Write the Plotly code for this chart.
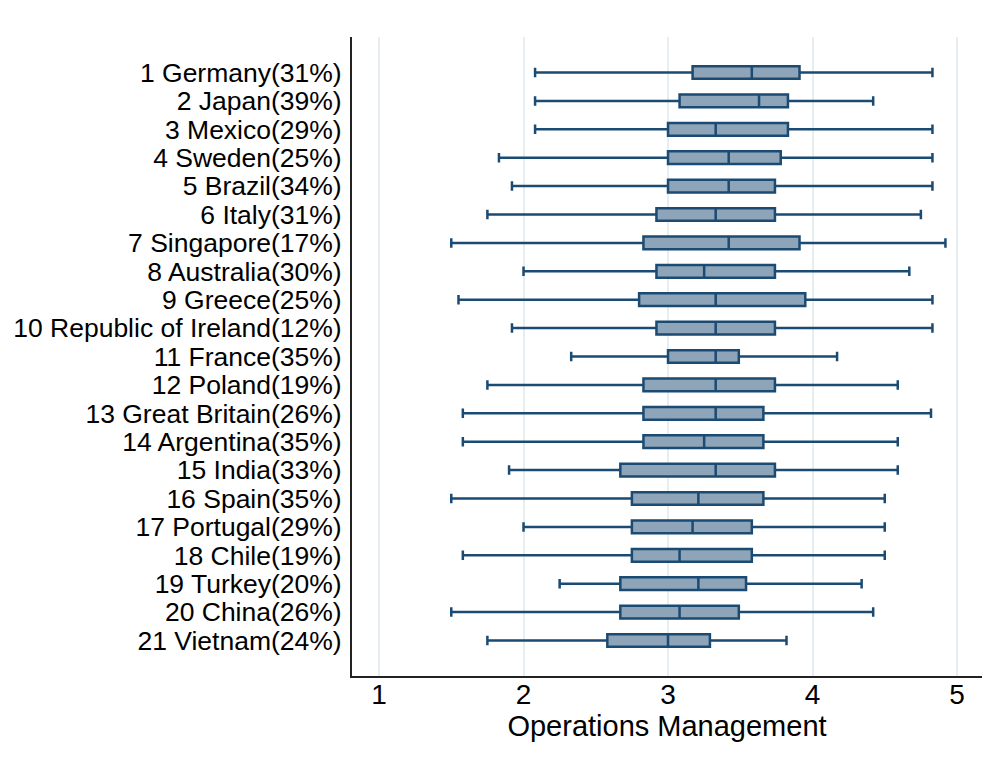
import plotly.graph_objects as go

countries = [
    "1 Germany(31%)", "2 Japan(39%)", "3 Mexico(29%)", "4 Sweden(25%)",
    "5 Brazil(34%)", "6 Italy(31%)", "7 Singapore(17%)", "8 Australia(30%)",
    "9 Greece(25%)", "10 Republic of Ireland(12%)", "11 France(35%)",
    "12 Poland(19%)", "13 Great Britain(26%)", "14 Argentina(35%)",
    "15 India(33%)", "16 Spain(35%)", "17 Portugal(29%)", "18 Chile(19%)",
    "19 Turkey(20%)", "20 China(26%)", "21 Vietnam(24%)",
]
lower = [2.08, 2.08, 2.08, 1.83, 1.92, 1.75, 1.50, 2.00, 1.55, 1.92, 2.33,
         1.75, 1.58, 1.58, 1.90, 1.50, 2.00, 1.58, 2.25, 1.50, 1.75]
q1 = [3.17, 3.08, 3.00, 3.00, 3.00, 2.92, 2.83, 2.92, 2.80, 2.92, 3.00,
      2.83, 2.83, 2.83, 2.67, 2.75, 2.75, 2.75, 2.67, 2.67, 2.58]
median = [3.58, 3.63, 3.33, 3.42, 3.42, 3.33, 3.42, 3.25, 3.33, 3.33, 3.33,
          3.33, 3.33, 3.25, 3.33, 3.21, 3.17, 3.08, 3.21, 3.08, 3.00]
q3 = [3.91, 3.83, 3.83, 3.78, 3.74, 3.74, 3.91, 3.74, 3.95, 3.74, 3.49,
      3.74, 3.66, 3.66, 3.74, 3.66, 3.58, 3.58, 3.54, 3.49, 3.29]
upper = [4.83, 4.42, 4.83, 4.83, 4.83, 4.75, 4.92, 4.67, 4.83, 4.83, 4.17,
         4.59, 4.82, 4.59, 4.59, 4.50, 4.50, 4.50, 4.34, 4.42, 3.82]
x_ticks = [1, 2, 3, 4, 5]
x_title = "Operations Management"

FONT = "Liberation Sans, Arial, Helvetica, sans-serif"
LINE = "#1b4a72"
FILL = "#8ea4b9"

fig = go.Figure()
fig.add_trace(go.Box(
    y=countries, q1=q1, median=median, q3=q3,
    lowerfence=lower, upperfence=upper,
    orientation="h",
    fillcolor=FILL,
    line=dict(color=LINE, width=2.5),
    whiskerwidth=0.75,
    boxpoints=False,
    hoverinfo="skip",
    showlegend=False,
))

fig.update_layout(
    width=998, height=773,
    margin=dict(l=352, r=16, t=37, b=97),
    paper_bgcolor="white", plot_bgcolor="white",
    boxgap=0.36,
    font=dict(family=FONT, color="black"),
    showlegend=False,
)
fig.update_xaxes(
    range=[0.813, 5.173],
    tickmode="array",
    tickvals=x_ticks, ticktext=[str(t) for t in x_ticks],
    tickfont=dict(size=28, family=FONT),
    showgrid=True, gridcolor="#e6eef2", gridwidth=1.5,
    zeroline=False,
    showline=True, linecolor="#222222", linewidth=2,
    ticks="", ticklabelstandoff=-8,
    title=dict(text=x_title, font=dict(size=29, family=FONT), standoff=5),
)
fig.update_yaxes(
    type="category",
    categoryorder="array", categoryarray=countries,
    tickmode="array", tickvals=countries, ticktext=countries,
    range=[20 + 1.25, -1.25],
    tickfont=dict(size=26.5, family=FONT),
    showgrid=False, zeroline=False,
    showline=True, linecolor="#222222", linewidth=2,
    ticks="", ticklabelstandoff=3,
)

fig.write_html("out.html")
